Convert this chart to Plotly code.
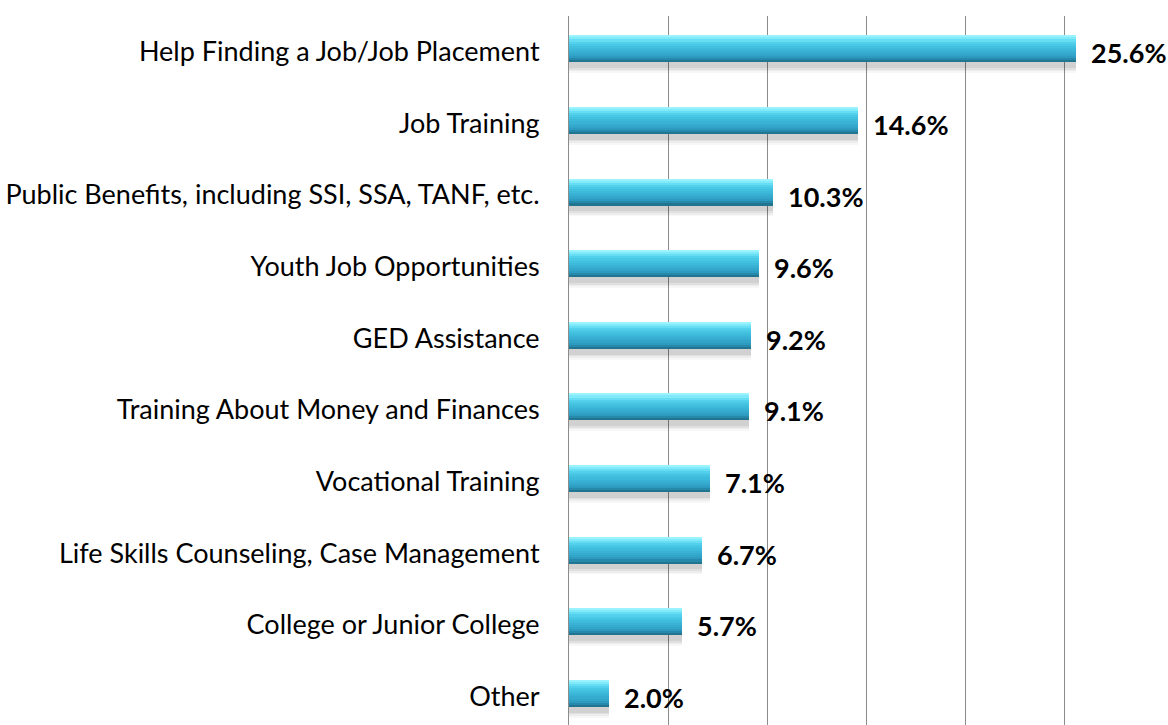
import plotly.graph_objects as go

# Share of respondents naming each type of help
categories = [
    "Help Finding a Job/Job Placement",
    "Job Training",
    "Public Benefits, including SSI, SSA, TANF, etc.",
    "Youth Job Opportunities",
    "GED Assistance",
    "Training About Money and Finances",
    "Vocational Training",
    "Life Skills Counseling, Case Management",
    "College or Junior College",
    "Other",
]
percent = [25.6, 14.6, 10.3, 9.6, 9.2, 9.1, 7.1, 6.7, 5.7, 2.0]
grid_ticks = [0, 5, 10, 15, 20, 25]

BAR = 0.377          # bar thickness in category units
HALF = BAR / 2
LIFT = 0.042         # bars sit slightly above the category centre

fig = go.Figure()

# soft drop shadow beneath each bar (several faint layers)
for k, a in enumerate([0.03, 0.04, 0.055, 0.065]):
    fig.add_trace(go.Bar(
        y=categories, x=percent, orientation="h",
        offset=-HALF - LIFT + 0.02 + 0.012 * k, width=BAR + 0.13 - 0.035 * k,
        marker=dict(color=f"rgba(0,0,0,{a})", line=dict(width=0)),
        hoverinfo="skip", showlegend=False,
    ))

# vertical gradient of the bar body, drawn as thin horizontal bands (top -> bottom)
band_colors = [
    "#9AF3FF", "#80EAFB", "#66DDF3", "#53D1EC", "#48C8E5", "#42C0E0",
    "#3DB9DA", "#39B2D5", "#35ABCF", "#31A4C8", "#2D9BBF", "#2789A9",
    "#217590",
]
n = len(band_colors)
step = BAR / n
for i, col in enumerate(band_colors):
    fig.add_trace(go.Bar(
        y=categories, x=percent, orientation="h",
        offset=-HALF - LIFT + i * step, width=step * 1.03,
        marker=dict(color=col, line=dict(width=0)),
        hoverinfo="skip", showlegend=False,
    ))

# value labels at the end of each bar
for cat, v in zip(categories, percent):
    fig.add_annotation(
        x=v, y=cat, text=f"<b>{v:.1f}%</b>", showarrow=False,
        xanchor="left", yanchor="middle", xshift=13, yshift=-1,
        font=dict(family="Lato, sans-serif", size=27, color="#000000"),
    )

fig.update_layout(
    width=1168, height=725,
    margin=dict(l=569, r=5, t=16, b=0),
    paper_bgcolor="white", plot_bgcolor="white",
    barmode="overlay", bargap=0,
    font=dict(family="Lato, sans-serif", size=27, color="#000000"),
    showlegend=False,
)
fig.update_xaxes(
    range=[0, 30], tickvals=grid_ticks, showticklabels=False,
    showgrid=True, gridcolor="#8C8C8C", gridwidth=1,
    zeroline=False, showline=False,
)
fig.update_yaxes(
    type="category", categoryorder="array", categoryarray=categories,
    range=[9.40, -0.5], showgrid=False, zeroline=False,
    showline=True, linecolor="#8C8C8C", linewidth=1,
    ticks="", ticklabelstandoff=23,
    tickfont=dict(family="Lato, sans-serif", size=27, color="#000000"),
)

fig.write_html("out.html")
